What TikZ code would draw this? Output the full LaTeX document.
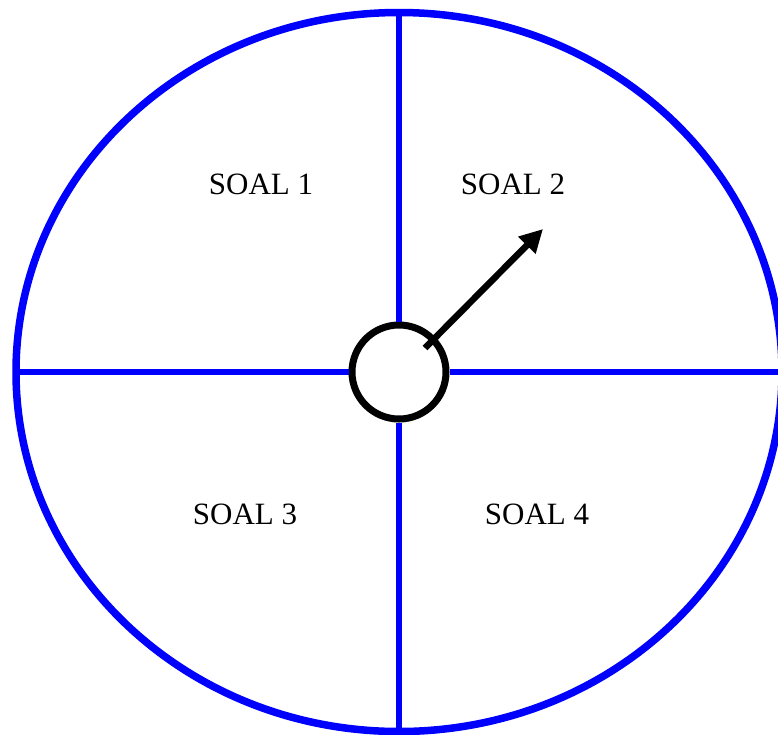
\documentclass[tikz,border=0pt]{standalone}
\usepackage{fontspec}
\setmainfont{Liberation Serif}
\usepackage{tikz}
\usetikzlibrary{shapes.geometric, arrows.meta}

\begin{document}
\begin{tikzpicture}[
    x=1pt, y=-1pt,
    wheel/.style={draw=blue, ellipse, line width=7.5pt, inner sep=0pt, outer sep=0pt,
                  minimum width=766pt, minimum height=719pt},
    spoke/.style={draw=blue, line width=5.5pt},
    hub/.style={draw, circle, fill=white, line width=7pt, inner sep=0pt,
                minimum size=94pt},
    lbl/.style={font=\fontsize{31}{31}\selectfont},
    arr/.style={-{Triangle[length=23pt, width=23pt]}, line width=6.5pt}
]
\useasboundingbox (0,0) rectangle (778,734);
\clip (0,0) rectangle (778,734);

\node[wheel] (wheel) at (399,372) {};
\node[hub] (hub) at (399,372) {};

% spokes
\draw[spoke] (wheel.west) -- (hub.west);
\draw[spoke] (hub.east) -- (wheel.east);
\draw[spoke] (wheel.north) -- (hub.north);
\draw[spoke] (hub.south) -- (wheel.south);

\node[lbl] (q1) at (261,184) {SOAL 1};
\node[lbl] (q2) at (513,184) {SOAL 2};
\node[lbl] (q3) at (245,514) {SOAL 3};
\node[lbl] (q4) at (537,514) {SOAL 4};

% pointer
\coordinate (tail) at (425,348);
\coordinate (tip) at (543,229);
\draw[arr] (tail) -- (tip);
\end{tikzpicture}
\end{document}
